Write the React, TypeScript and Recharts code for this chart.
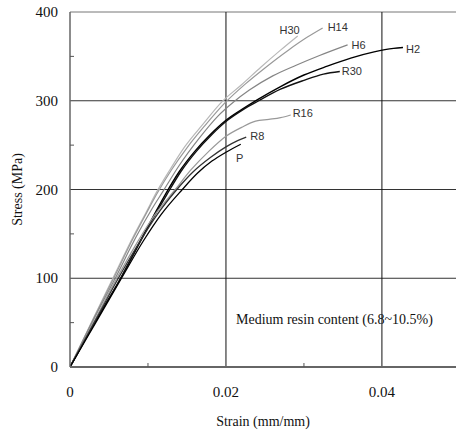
import { LabelList, Line, LineChart, ReferenceLine, XAxis, YAxis } from 'recharts';

// stress-strain curves: [strain (mm/mm), stress (MPa)]
const H30 = [[0, 0], [0.003, 55], [0.0055, 100], [0.008, 145], [0.0098, 175], [0.0111, 197], [0.0128, 222], [0.0147, 248], [0.017, 273], [0.0195, 299], [0.022, 318], [0.0245, 338], [0.027, 357], [0.0292, 373]];
const H14 = [[0, 0], [0.003, 54], [0.0056, 100], [0.0081, 145], [0.0099, 175], [0.0112, 196], [0.013, 222], [0.015, 247], [0.0173, 272], [0.0198, 297], [0.0225, 319], [0.025, 337], [0.028, 357], [0.0305, 372], [0.0324, 382]];
const H6 = [[0, 0], [0.003, 53], [0.0058, 100], [0.0085, 147], [0.0105, 178], [0.012, 199], [0.014, 227], [0.0165, 257], [0.019, 283], [0.0209, 298], [0.023, 312], [0.026, 328], [0.029, 340], [0.032, 351], [0.0356, 363]];
const H2 = [[0, 0], [0.0033, 52], [0.0065, 100], [0.009, 142], [0.0107, 170], [0.0122, 194], [0.014, 220], [0.016, 243], [0.018, 262], [0.02, 278], [0.022, 290], [0.024, 301], [0.027, 316], [0.03, 329], [0.033, 339], [0.036, 348], [0.039, 355], [0.0415, 359], [0.0427, 360]];
const R30 = [[0, 0], [0.0033, 52], [0.0065, 100], [0.009, 141], [0.0108, 170], [0.0124, 194], [0.0142, 220], [0.0162, 243], [0.0182, 262], [0.0202, 278], [0.0222, 290], [0.0242, 300], [0.027, 313], [0.03, 323], [0.0325, 330], [0.0346, 333]];
const R16 = [[0, 0], [0.003, 50], [0.006, 100], [0.0088, 143], [0.011, 173], [0.0135, 200], [0.0155, 222], [0.0178, 243], [0.02, 260], [0.022, 270], [0.0238, 277], [0.0255, 279], [0.027, 281], [0.0283, 284]];
const R8 = [[0, 0], [0.0031, 50], [0.0062, 100], [0.009, 142], [0.0112, 172], [0.0137, 200], [0.0158, 220], [0.018, 236], [0.02, 248], [0.0215, 255], [0.0226, 259]];
const P = [[0, 0], [0.0033, 50], [0.0066, 100], [0.0094, 142], [0.0117, 172], [0.0144, 200], [0.0163, 218], [0.0182, 232], [0.02, 242], [0.0219, 251]];

const seriesNames = ['H30', 'H14', 'H6', 'H2', 'R30', 'R16', 'R8', 'P'];
const seriesData = [H30, H14, H6, H2, R30, R16, R8, P];

const strainTicks = [0, 0.01, 0.02, 0.03, 0.04];
const stressTicks = [0, 50, 100, 150, 200, 250, 300, 350, 400];
const strainGrid = [0.02, 0.04];
const stressGrid = [100, 200, 300, 400];

const xTitle = 'Strain (mm/mm)';
const yTitle = 'Stress (MPa)';
const note = 'Medium resin content (6.8~10.5%)';

// colour, width and label placement for each curve
const style: Record<string, { color: string; width: number; dx: number; dy: number; anchor: string }> = {
  H30: { color: '#b8b8b8', width: 1.2, dx: 2, dy: -6, anchor: 'end' },
  H14: { color: '#999999', width: 1.2, dx: 5, dy: -1, anchor: 'start' },
  H6: { color: '#858585', width: 1.2, dx: 4, dy: 0, anchor: 'start' },
  H2: { color: '#000000', width: 1.4, dx: 3, dy: 1, anchor: 'start' },
  R30: { color: '#111111', width: 1.4, dx: 2, dy: 0, anchor: 'start' },
  R16: { color: '#999999', width: 1.2, dx: 2, dy: -2, anchor: 'start' },
  R8: { color: '#333333', width: 1.3, dx: 4, dy: -1, anchor: 'start' },
  P: { color: '#000000', width: 1.3, dx: -1, dy: 14, anchor: 'middle' },
};

const serif = '"Liberation Serif", "Times New Roman", serif';
const sans = '"Liberation Sans", Arial, sans-serif';

const Y_MARGIN = 12;
const X_MARGIN = 19;

const YTick = (props: any) => {
  const { x, y, payload } = props;
  const axisX = x + Y_MARGIN;
  if (payload.value % 100 !== 0) {
    return <line x1={axisX} x2={axisX + 4} y1={y} y2={y} stroke="#555" strokeWidth={1} />;
  }
  return (
    <text x={x} y={y} textAnchor="end" dominantBaseline="central" fontFamily={serif} fontSize={15} fill="#111">
      {payload.value}
    </text>
  );
};

const XTick = (props: any) => {
  const { x, y, payload } = props;
  const axisY = y - X_MARGIN;
  if (Math.round(payload.value * 1000) % 20 !== 0) {
    return <line x1={x} x2={x} y1={axisY} y2={axisY - 4} stroke="#555" strokeWidth={1} />;
  }
  return (
    <text x={x} y={y} dy="0.71em" textAnchor="middle" fontFamily={serif} fontSize={15} fill="#111">
      {payload.value}
    </text>
  );
};

const makeLabel = (name: string, last: number) => (props: any) => {
  if (props.index !== last) return null;
  const s = style[name];
  return (
    <text
      x={props.x + s.dx}
      y={props.y + s.dy}
      textAnchor={s.anchor}
      dominantBaseline="central"
      fontFamily={sans}
      fontSize={11}
      fill="#333"
    >
      {name}
    </text>
  );
};

const StressStrain = () => {
  return (
    <div style={{ position: 'absolute', left: 0, top: 0, width: 456, height: 436, background: '#fff' }}>
      <LineChart width={456} height={436} margin={{ top: 12, right: 0, left: 0, bottom: 0 }}>
        <XAxis
          type="number"
          dataKey="strain"
          domain={[0, 0.0495]}
          allowDataOverflow
          ticks={strainTicks}
          tickLine={false}
          tickSize={0}
          tickMargin={X_MARGIN}
          tick={XTick}
          height={69}
          stroke="#666"
          strokeWidth={2}
          label={{ value: xTitle, position: 'insideBottom', offset: 10, style: { fontFamily: serif, fontSize: 14, fill: '#111' } }}
        />
        <YAxis
          type="number"
          dataKey="stress"
          domain={[0, 400]}
          ticks={stressTicks}
          tickLine={false}
          tickSize={0}
          tickMargin={Y_MARGIN}
          tick={YTick}
          width={70}
          stroke="#666"
          strokeWidth={1.5}
          label={{
            content: (p: any) => {
              const cy = p.viewBox.y + p.viewBox.height / 2;
              return (
                <text x={17} y={cy} transform={`rotate(-90 17 ${cy})`} textAnchor="middle" dominantBaseline="central" fontFamily={serif} fontSize={14} fill="#111">
                  {yTitle}
                </text>
              );
            },
          }}
        />
        {stressGrid.map((v) => (
          <ReferenceLine key={'h' + v} y={v} stroke={v === 400 ? '#777' : '#333'} strokeWidth={1} />
        ))}
        {strainGrid.map((v) => (
          <ReferenceLine key={'v' + v} x={v} stroke="#111" strokeWidth={1} />
        ))}
        {seriesNames.map((name, i) => {
          const data = seriesData[i].map(([strain, stress]) => ({ strain, stress }));
          return (
            <Line
              key={name}
              data={data}
              dataKey="stress"
              type="monotone"
              stroke={style[name].color}
              strokeWidth={style[name].width}
              dot={false}
              isAnimationActive={false}
            >
              <LabelList dataKey="stress" content={makeLabel(name, data.length - 1)} />
            </Line>
          );
        })}
      </LineChart>
      <div
        style={{
          position: 'absolute',
          left: 236,
          top: 311,
          fontFamily: serif,
          fontSize: 14,
          color: '#111',
          whiteSpace: 'nowrap',
          lineHeight: '18px',
        }}
      >
        {note}
      </div>
    </div>
  );
};

export default function App() {
  return <StressStrain />;
}
